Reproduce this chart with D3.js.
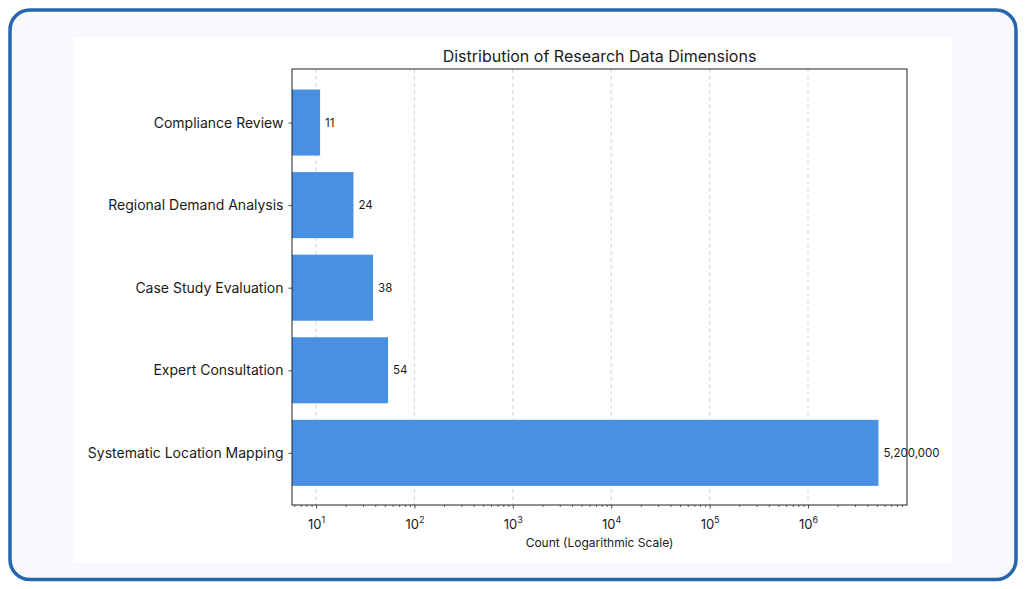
<!DOCTYPE html>
<html>
<head>
<meta charset="utf-8">
<script src="https://cdn.jsdelivr.net/npm/d3@7"></script>
<style>
  body { margin: 0; background: #fff; }
  text { font-family: "Inter", "Noto Sans", sans-serif; fill: #1a1a1a; }
</style>
</head>
<body>
<svg id="chart" width="1026" height="589"></svg>
<script>
// categories listed bottom to top (matplotlib barh order)
const categories = [
	'Systematic Location Mapping',
	'Expert Consultation',
	'Case Study Evaluation',
	'Regional Demand Analysis',
	'Compliance Review'
];
const counts = [5200000, 54, 38, 24, 11];
const majorTicks = [10, 100, 1000, 10000, 100000, 1000000];
const tickExponents = ['1', '2', '3', '4', '5', '6'];

const svg = d3.select('#chart');

// card frame
svg.append('rect')
	.attr('x', 10).attr('y', 10)
	.attr('width', 1006).attr('height', 569.5)
	.attr('rx', 20)
	.attr('fill', '#f6f8fc')
	.attr('stroke', '#2566ad')
	.attr('stroke-width', 3.5);

svg.append('rect')
	.attr('x', 73).attr('y', 37)
	.attr('width', 879).attr('height', 526)
	.attr('fill', '#fff');

const plot = {left: 292, right: 907, top: 69, bottom: 505};

const x = d3.scaleLog()
	.domain([5.7, 1.014e7])
	.range([plot.left, plot.right]);

const y = d3.scaleLinear()
	.domain([-0.64, 4.64])
	.range([plot.bottom + 0.7, plot.top + 0.7]);

const barHeight = 0.8;

// grid
svg.append('g')
	.selectAll('line')
	.data(majorTicks)
	.join('line')
	.attr('x1', d => x(d)).attr('x2', d => x(d))
	.attr('y1', plot.top).attr('y2', plot.bottom)
	.attr('stroke', '#c8c8c8')
	.attr('stroke-width', 0.8)
	.attr('stroke-dasharray', '4,3');

// bars
svg.append('g')
	.selectAll('rect')
	.data(counts)
	.join('rect')
	.attr('x', plot.left)
	.attr('y', (d, i) => y(i + barHeight / 2))
	.attr('width', d => x(d) - plot.left)
	.attr('height', y(0) - y(barHeight))
	.attr('fill', '#4a90e2');

// value labels
svg.append('g')
	.selectAll('text')
	.data(counts)
	.join('text')
	.attr('x', d => x(d) + 5)
	.attr('y', (d, i) => y(i))
	.attr('dy', '0.35em')
	.attr('font-size', 11.5)
	.text(d => d3.format(',')(d));

// frame
svg.append('rect')
	.attr('x', plot.left).attr('y', plot.top)
	.attr('width', plot.right - plot.left)
	.attr('height', plot.bottom - plot.top)
	.attr('fill', 'none')
	.attr('stroke', '#222')
	.attr('stroke-width', 1);

// x axis: minor ticks
const [lo, hi] = x.domain();
const minorTicks = [];
for (let e = 0; e <= 7; e++) {
	for (let m = 2; m <= 9; m++) {
		const v = m * Math.pow(10, e);
		if (v >= lo && v <= hi) minorTicks.push(v);
	}
}

svg.append('g')
	.attr('transform', `translate(0,${plot.bottom})`)
	.call(d3.axisBottom(x).tickValues(minorTicks).tickSize(2).tickFormat(''))
	.call(g => g.select('.domain').remove())
	.call(g => g.selectAll('line').attr('stroke', '#222').attr('stroke-width', 0.7));

const majorAxis = svg.append('g')
	.attr('transform', `translate(0,${plot.bottom})`)
	.call(d3.axisBottom(x).tickValues(majorTicks).tickSize(3.5).tickFormat(''))
	.call(g => g.select('.domain').remove())
	.call(g => g.selectAll('line').attr('stroke', '#222').attr('stroke-width', 0.8));

majorAxis.selectAll('.tick')
	.append('text')
	.attr('y', 24)
	.attr('text-anchor', 'middle')
	.attr('font-size', 13)
	.each(function(d, i) {
		const t = d3.select(this);
		t.append('tspan').text('10');
		t.append('tspan')
			.attr('font-size', 9)
			.attr('dy', -6)
			.text(tickExponents[i]);
	});

// y axis
svg.append('g')
	.attr('transform', `translate(${plot.left},0)`)
	.call(d3.axisLeft(y).tickValues(d3.range(categories.length)).tickSize(3.5)
		.tickFormat(i => categories[i]).tickPadding(5))
	.call(g => g.select('.domain').remove())
	.call(g => g.selectAll('line').attr('stroke', '#222').attr('stroke-width', 0.8))
	.call(g => g.selectAll('text')
		.attr('font-size', 14)
		.attr('fill', '#1a1a1a')
		.style('font-family', '"Inter", "Noto Sans", sans-serif'));

// title
svg.append('text')
	.attr('x', (plot.left + plot.right) / 2)
	.attr('y', plot.top - 7)
	.attr('text-anchor', 'middle')
	.attr('font-size', 16)
	.text('Distribution of Research Data Dimensions');

// x label
svg.append('text')
	.attr('x', (plot.left + plot.right) / 2)
	.attr('y', 547)
	.attr('text-anchor', 'middle')
	.attr('font-size', 12)
	.text('Count (Logarithmic Scale)');
</script>
</body>
</html>
